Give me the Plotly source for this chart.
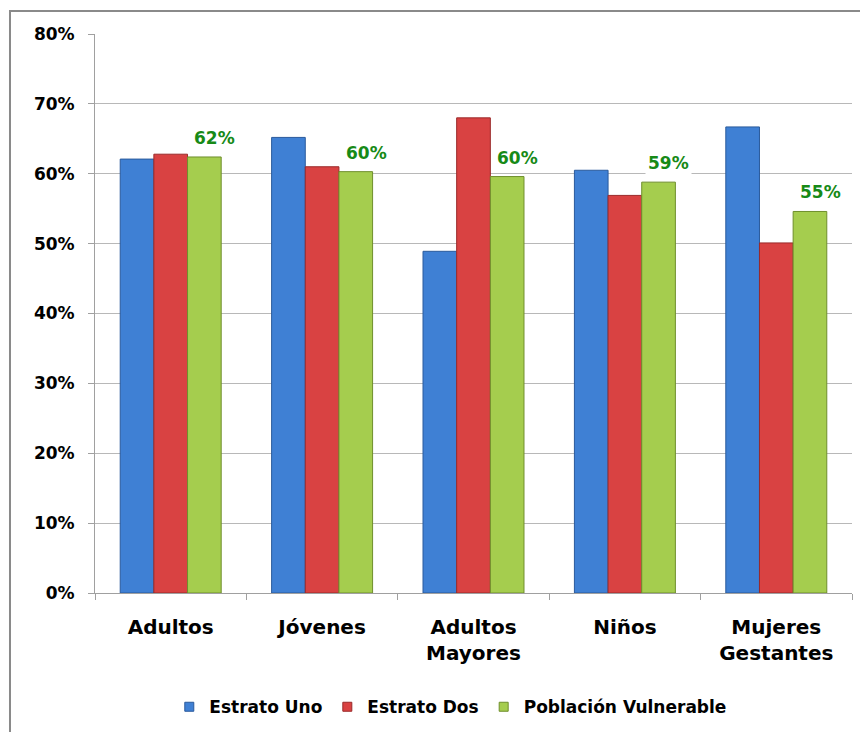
import plotly.graph_objects as go

# Categories and series (shares, as fractions)
categorias = ["Adultos", "Jóvenes", "Adultos<br>Mayores", "Niños", "Mujeres<br>Gestantes"]
estrato_uno = [0.621, 0.652, 0.489, 0.605, 0.667]
estrato_dos = [0.628, 0.610, 0.680, 0.569, 0.501]
poblacion_vulnerable = [0.624, 0.603, 0.596, 0.588, 0.546]

y_ticks = [0, 0.1, 0.2, 0.3, 0.4, 0.5, 0.6, 0.7, 0.8]

series = [
    ("Estrato Uno", estrato_uno, "#3f80d4", "#2a5a9c"),
    ("Estrato Dos", estrato_dos, "#d94242", "#9a2a2a"),
    ("Población Vulnerable", poblacion_vulnerable, "#a5cd4e", "#6f8f2c"),
]

FONT = "DejaVu Sans"

fig = go.Figure()
for name, vals, color, edge in series:
    fig.add_trace(go.Bar(
        x=categorias, y=vals, name=name, showlegend=False,
        marker=dict(color=color, line=dict(color=edge, width=1)),
    ))
# Legend entries with small square keys
for name, vals, color, edge in series:
    fig.add_trace(go.Scatter(
        x=[None], y=[None], mode="markers", name=name,
        marker=dict(symbol="square", size=9, color=color, line=dict(color=edge, width=1)),
    ))

# Value labels above the "Población Vulnerable" bars
for cat, v in zip(categorias, poblacion_vulnerable):
    fig.add_annotation(
        x=cat, y=v, xref="x", yref="y",
        text=f"<b>{round(v * 100)}%</b>",
        showarrow=False, yanchor="bottom", xshift=44, yshift=6,
        bgcolor="white", borderpad=2,
        font=dict(family=FONT, size=17, color="#178a17"),
    )

# Outer chart frame
fig.add_shape(
    type="rect", xref="paper", yref="paper",
    x0=-0.1123, x1=1.05, y0=-0.4, y1=1.041,
    line=dict(color="#8a8a8a", width=2), fillcolor="rgba(0,0,0,0)", layer="below",
)

fig.update_layout(
    width=860, height=732,
    margin=dict(l=95, r=8, t=34, b=138),
    paper_bgcolor="white", plot_bgcolor="white",
    barmode="group", bargap=0.333, bargroupgap=0,
    showlegend=True,
    legend=dict(
        orientation="h", x=0.47, xanchor="center", y=-0.17, yanchor="top",
        font=dict(family=FONT, size=17, color="black", weight="bold"),
        itemwidth=30, traceorder="normal",
    ),
    font=dict(family=FONT, color="black"),
)

fig.update_xaxes(
    showline=True, linecolor="#a0a0a0", linewidth=1,
    ticks="outside", tickson="boundaries", ticklen=6, tickcolor="#a0a0a0",
    ticklabelstandoff=16,
    tickfont=dict(family=FONT, size=20, color="black", weight="bold"),
    showgrid=False,
)
fig.update_yaxes(
    range=[0, 0.8], tickvals=y_ticks, tickformat=".0%",
    showline=True, linecolor="#a0a0a0", linewidth=1,
    ticks="outside", ticklen=6, tickcolor="#a0a0a0",
    ticklabelstandoff=10,
    showgrid=True, gridcolor="#b8b8b8", gridwidth=1,
    tickfont=dict(family=FONT, size=17, color="black", weight="bold"),
    zeroline=False,
)

fig.write_html("out.html")
